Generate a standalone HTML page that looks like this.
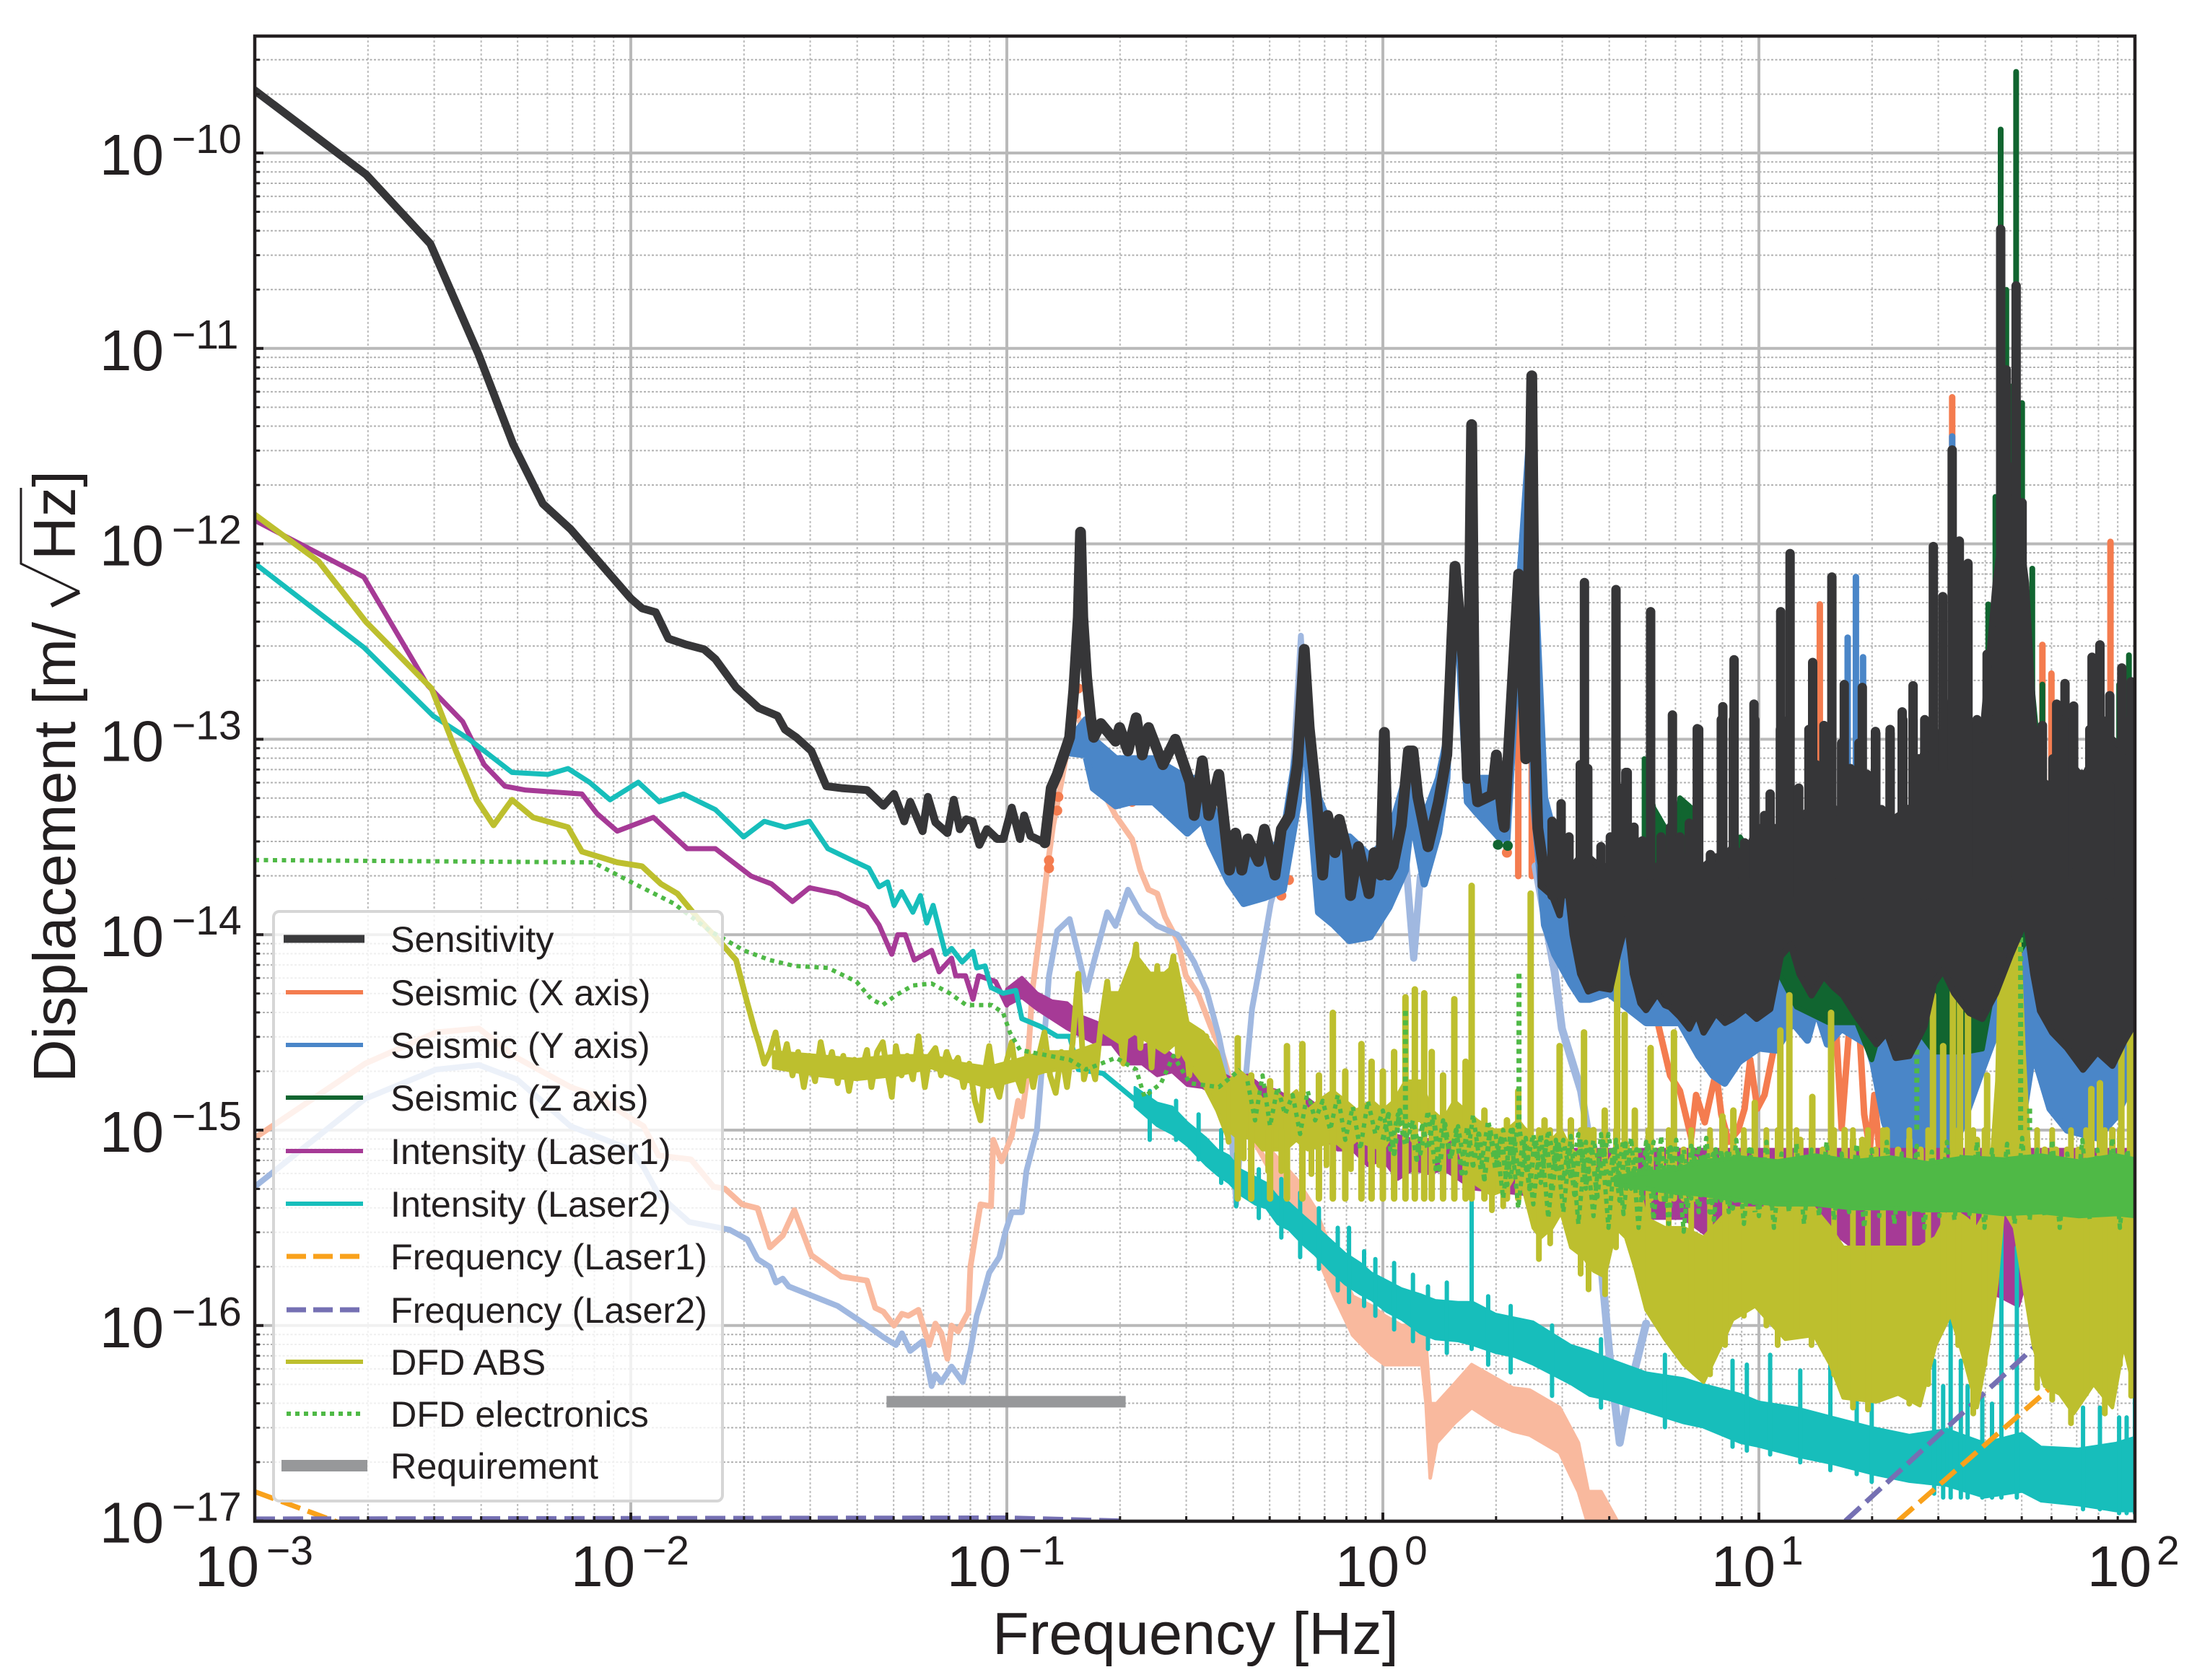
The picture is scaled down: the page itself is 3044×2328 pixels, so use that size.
<!DOCTYPE html>
<html lang="en">
<head>
<meta charset="utf-8">
<title>Displacement noise spectrum</title>
<style>
html,body{margin:0;padding:0;background:#fff;}
svg{display:block;}
text{font-family:"Liberation Sans",sans-serif;fill:#231f20;}
</style>
</head>
<body>
<svg id="chart" xmlns="http://www.w3.org/2000/svg" width="3044" height="2328" viewBox="0 0 3044 2328">
  <defs><clipPath id="plot-clip"><rect x="353" y="50" width="2605" height="2058"/></clipPath></defs>
  <rect x="0" y="0" width="3044" height="2328" fill="#fff"/>
  <g id="grid"></g>
  <g id="series" clip-path="url(#plot-clip)"></g>
  <g id="ticks"></g>
  <rect x="353" y="50" width="2605" height="2058" fill="none" stroke="#231f20" stroke-width="4.5"/>
  <g id="tick-labels"></g>

  <text x="1375" y="2292" font-size="83">Frequency [Hz]</text>
  <g>
    <text transform="translate(104,1500) rotate(-90)" font-size="82.6">Displacement [m/</text>
    <polyline points="29,676 29,781 110,820" fill="none" stroke="#231f20" stroke-width="3"/>
    <polyline points="110,820 71,839" fill="none" stroke="#231f20" stroke-width="6"/>
    <text transform="translate(104,776) rotate(-90)" font-size="82.6">Hz]</text>
  </g>

  <g>
    <rect x="379" y="1263" width="622" height="817" rx="8" ry="8" fill="#fff" fill-opacity="0.8" stroke="#d6d6d6" stroke-width="4"/>
    <g font-size="50.3">
      <g><line x1="393" x2="505" y1="1301" y2="1301" stroke="#3a3a3c" stroke-width="11"/><text x="541" y="1319">Sensitivity</text></g>
      <g><line x1="396" x2="503" y1="1375" y2="1375" stroke="#f47c4f" stroke-width="6"/><text x="541" y="1393">Seismic (X axis)</text></g>
      <g><line x1="396" x2="503" y1="1448" y2="1448" stroke="#4a86c8" stroke-width="6"/><text x="541" y="1466">Seismic (Y axis)</text></g>
      <g><line x1="396" x2="503" y1="1521" y2="1521" stroke="#116530" stroke-width="6"/><text x="541" y="1539">Seismic (Z axis)</text></g>
      <g><line x1="396" x2="503" y1="1595" y2="1595" stroke="#a63a96" stroke-width="6"/><text x="541" y="1613">Intensity (Laser1)</text></g>
      <g><line x1="396" x2="503" y1="1668" y2="1668" stroke="#17bebb" stroke-width="6"/><text x="541" y="1686">Intensity (Laser2)</text></g>
      <g><line x1="397" x2="503" y1="1741" y2="1741" stroke="#f9a11b" stroke-width="7" stroke-dasharray="27 10"/><text x="541" y="1759">Frequency (Laser1)</text></g>
      <g><line x1="397" x2="503" y1="1815" y2="1815" stroke="#7570b3" stroke-width="7" stroke-dasharray="27 10"/><text x="541" y="1833">Frequency (Laser2)</text></g>
      <g><line x1="396" x2="503" y1="1887" y2="1887" stroke="#bdbf2e" stroke-width="6"/><text x="541" y="1905">DFD ABS</text></g>
      <g><line x1="397" x2="503" y1="1959" y2="1959" stroke="#4fb946" stroke-width="6" stroke-dasharray="6 6"/><text x="541" y="1977">DFD electronics</text></g>
      <g><line x1="390" x2="509" y1="2031" y2="2031" stroke="#97989a" stroke-width="16"/><text x="541" y="2049">Requirement</text></g>
    </g>
  </g>
</svg>
<script>
// Axis decades and minor multipliers
const xDecades=[-3,-2,-1,0,1,2];
const yDecades=[-10,-11,-12,-13,-14,-15,-16,-17];
const minorMultipliers=[2,3,4,5,6,7,8,9];

// All series are log10(Hz) and log10(m/rtHz)
const sensLf=[-3,-2.704,-2.533,-2.405,-2.313,-2.234,-2.16,-2,-1.97,-1.934,-1.9,-1.854,-1.805,-1.775,-1.72,-1.66,-1.61,-1.59,-1.56,-1.52,-1.48,-1.44,-1.372,-1.328,-1.3,-1.273,-1.257,-1.224,-1.21,-1.19,-1.158,-1.141,-1.125,-1.108,-1.091,-1.073,-1.053,-1.026,-1.009,-0.987,-0.965,-0.954,-0.937,-0.899,-0.882,-0.866,-0.833,-0.822,-0.81,-0.804,-0.798,-0.788,-0.777,-0.769,-0.75,-0.711,-0.7,-0.678,-0.656,-0.64,-0.623,-0.585,-0.552,-0.513,-0.502,-0.48,-0.463,-0.436,-0.408,-0.392,-0.375,-0.359,-0.331,-0.315,-0.287,-0.27,-0.248,-0.227,-0.209,-0.196,-0.177,-0.16,-0.147,-0.127,-0.116,-0.094,-0.086,-0.065,-0.037,-0.023,-0.006,0.004,0.014,0.027,0.049,0.068,0.08,0.093,0.12,0.148,0.17,0.192,0.214,0.225,0.236,0.245,0.252,0.29,0.302,0.319,0.323,0.33,0.361,0.38,0.396,0.405,0.412,0.43];
const sensLa=[-9.68,-10.11,-10.465,-11.03,-11.49,-11.795,-11.925,-12.28,-12.33,-12.35,-12.485,-12.515,-12.54,-12.59,-12.735,-12.84,-12.88,-12.95,-12.99,-13.06,-13.24,-13.25,-13.26,-13.34,-13.28,-13.42,-13.32,-13.47,-13.295,-13.425,-13.48,-13.31,-13.46,-13.41,-13.42,-13.54,-13.46,-13.51,-13.51,-13.35,-13.51,-13.39,-13.495,-13.53,-13.25,-13.18,-12.99,-12.75,-12.375,-11.94,-12.375,-12.68,-12.89,-12.99,-12.92,-13.01,-12.94,-13.06,-12.89,-13.08,-12.94,-13.13,-13.0,-13.22,-13.39,-13.11,-13.39,-13.18,-13.67,-13.48,-13.67,-13.51,-13.625,-13.46,-13.695,-13.46,-13.39,-13.13,-12.54,-12.94,-13.295,-13.695,-13.39,-13.58,-13.41,-13.58,-13.8,-13.55,-13.79,-13.58,-13.695,-12.965,-13.695,-13.65,-13.44,-13.06,-13.06,-13.295,-13.55,-13.32,-13.08,-12.115,-12.61,-13.2,-11.39,-13.2,-13.32,-13.285,-13.08,-13.41,-13.45,-13.2,-12.155,-13.1,-11.14,-13.0,-13.455,-13.7];
const sensBandLf=[0.42,0.45,0.47,0.485,0.505,0.525,0.546,0.575,0.604,0.625,0.649,0.665,0.685,0.7,0.73,0.75,0.764,0.79,0.815,0.835,0.853,0.885,0.91,0.93,0.965,0.994,1.03,1.058,1.085,1.108,1.14,1.172,1.2,1.224,1.26,1.29,1.313,1.34,1.364,1.4,1.44,1.465,1.49,1.52,1.56,1.594,1.63,1.67,1.71,1.73,1.748,1.78,1.82,1.862,1.9,1.94,1.97,2];
const sensBandUpper=[-13.65,-13.6,-13.65,-13.7,-13.65,-13.6,-13.6,-13.65,-13.65,-13.6,-13.55,-13.65,-13.65,-13.65,-13.65,-13.6,-13.65,-13.6,-13.6,-13.65,-13.65,-13.6,-13.6,-13.55,-13.6,-13.45,-13.45,-13.45,-13.45,-13.4,-13.35,-13.3,-13.35,-13.4,-13.4,-13.4,-13.4,-13.4,-13.4,-13.35,-13.35,-12.95,-13.0,-12.7,-12.9,-13.0,-12.2,-11.6,-12.2,-12.9,-13.2,-13.25,-13.1,-13.2,-13.05,-13.0,-13.05,-13.05];
const sensBandLower=[-13.75,-13.8,-13.9,-13.65,-14.0,-14.2,-14.29,-14.27,-14.28,-14.1,-13.92,-14.2,-14.35,-14.385,-14.3,-14.36,-14.37,-14.42,-14.48,-14.4,-14.5,-14.4,-14.45,-14.43,-14.38,-14.43,-14.38,-14.11,-14.05,-14.2,-14.31,-14.21,-14.27,-14.31,-14.42,-14.5,-14.56,-14.5,-14.63,-14.62,-14.47,-14.25,-14.18,-14.3,-14.4,-14.43,-14.3,-14.1,-13.92,-14.2,-14.39,-14.5,-14.58,-14.69,-14.6,-14.67,-14.55,-14.45];
const sensSpikeLf=[0.536,0.62,0.646,0.712,0.77,0.836,0.904,0.934,0.987,1.058,1.083,1.143,1.173,1.194,1.227,1.275,1.31,1.349,1.381,1.41,1.441,1.464,1.489,1.514,1.533,1.556,1.579,1.607,1.643,1.658,1.684,1.7,1.725,1.754,1.792,1.814,1.837,1.886,1.907,1.933,1.965,1.99];
const sensSpikeLa=[-12.198,-12.234,-13.17,-12.347,-12.876,-12.946,-12.833,-12.593,-12.82,-12.347,-12.05,-12.607,-12.93,-12.17,-12.72,-12.735,-12.96,-12.95,-12.86,-12.726,-12.9,-12.014,-12.27,-11.52,-11.986,-12.1,-12.92,-12.565,-10.39,-11.11,-10.68,-11.79,-12.946,-12.93,-12.82,-12.715,-12.83,-12.58,-12.517,-12.777,-12.635,-12.706];
const sensCombLf=[0.45,0.474,0.495,0.525,0.545,0.58,0.605,0.63,0.65,0.668,0.69,0.74,0.765,0.79,0.815,0.84,0.871,0.9,0.932,0.962,0.989,1.015,1.03,1.057,1.08,1.106,1.133,1.152,1.182,1.22,1.243,1.266,1.288,1.311,1.326,1.349,1.364,1.383,1.41,1.425,1.44,1.463,1.486,1.5,1.516,1.539,1.58,1.615,1.637,1.729,1.751,1.782,1.812,1.842,1.858,1.88,1.911,1.933,1.971,1.987];
const sensCombLa=[-13.42,-13.33,-13.5,-13.13,-13.15,-13.55,-13.5,-13.25,-13.17,-13.45,-13.52,-13.5,-13.45,-13.5,-13.43,-12.95,-13.59,-12.9,-12.9,-13.53,-12.9,-13.39,-13.28,-12.95,-12.9,-13.25,-12.95,-13.13,-12.95,-13.02,-13.15,-13.02,-13.18,-12.97,-13.36,-12.97,-13.45,-12.9,-12.9,-13.1,-13.08,-12.9,-13.18,-13.18,-12.9,-12.9,-12.9,-12.9,-12.6,-12.95,-12.95,-13.1,-12.9,-13.68,-13.18,-12.95,-12.9,-13.24,-13.1,-12.9];

const xPaleLf=[-3,-2.707,-2.518,-2.404,-2.303,-2.16,-2.087,-2,-1.966,-1.926,-1.84,-1.78,-1.75,-1.704,-1.663,-1.63,-1.596,-1.565,-1.52,-1.44,-1.372,-1.35,-1.328,-1.3,-1.279,-1.262,-1.235,-1.207,-1.19,-1.174,-1.158,-1.147,-1.13,-1.102,-1.097,-1.086,-1.07,-1.042,-1.036,-1.014,-0.987,-0.97,-0.96,-0.948,-0.932,-0.91,-0.893,-0.877,-0.855,-0.82,-0.777,-0.744,-0.711,-0.667,-0.645,-0.623,-0.6,-0.579,-0.546,-0.524,-0.49,-0.458,-0.425,-0.4,-0.381,-0.3];
const xPaleLa=[-15.04,-14.66,-14.5,-14.48,-14.63,-14.78,-14.83,-14.94,-14.98,-15.13,-15.15,-15.29,-15.3,-15.38,-15.4,-15.6,-15.54,-15.41,-15.64,-15.75,-15.77,-15.91,-15.93,-16.0,-15.94,-15.95,-15.92,-16.1,-15.99,-16.04,-16.17,-16.0,-16.03,-15.93,-15.7,-15.57,-15.38,-15.39,-15.05,-15.16,-15.03,-14.85,-14.93,-14.76,-14.285,-13.955,-13.67,-13.44,-13.22,-12.85,-13.03,-13.27,-13.39,-13.51,-13.67,-13.77,-13.79,-13.91,-14.03,-14.21,-14.31,-14.47,-14.62,-14.78,-14.92,-15.2];
const xBandLf=[-0.3,-0.23,-0.18,-0.13,-0.08,-0.03,0.005,0.05,0.104,0.115,0.126,0.143,0.19,0.236,0.3,0.346,0.39,0.47,0.52,0.546,0.58,0.623];
const xBandUpper=[-15.1,-15.25,-15.4,-15.65,-15.85,-15.9,-15.95,-16,-16,-16.1,-16.4,-16.4,-16.3,-16.2,-16.27,-16.32,-16.33,-16.42,-16.6,-16.85,-16.85,-17];
const xBandLower=[-15.3,-15.42,-15.62,-15.85,-16.05,-16.15,-16.2,-16.2,-16.2,-16.4,-16.78,-16.6,-16.5,-16.42,-16.5,-16.54,-16.56,-16.65,-16.85,-17.02,-17.02,-17.02];
const xLineLf=[0.7,0.72,0.764,0.79,0.82,0.833,0.856,0.886,0.9,0.92,0.945,0.962,0.977,0.996,1.015,1.038,1.068,1.09,1.12,1.16,1.205,1.22,1.243,1.266,1.28,1.295,1.307,1.32,1.34,1.35,1.36,1.39,1.4,1.43,1.45,1.46];
const xLineLa=[-14.42,-14.36,-14.72,-14.8,-15.04,-14.82,-14.96,-14.7,-14.92,-15.06,-15.0,-14.89,-14.64,-14.89,-14.82,-14.6,-14.49,-14.41,-14.2,-14.3,-14.47,-14.99,-14.41,-14.44,-14.92,-15.1,-14.82,-15.1,-15.09,-15.6,-15.1,-15.7,-15.1,-15.75,-15.15,-15.7];
const xSpikeLf=[1.162,1.514,1.754,1.778,1.935,0.396,0.36];
const xSpikeLa=[-12.31,-11.25,-12.517,-12.664,-11.99,-11.3,-12.2];
const xDotLf=[-0.888,-0.888,-0.863,-0.866,-0.816,-0.81,-0.794,-0.667,-0.75,-0.25,-0.27,0.33,-0.733,-0.69];
const xDotLa=[-13.66,-13.62,-13.295,-13.365,-12.87,-12.74,-12.92,-13.32,-13.09,-13.72,-13.8,-13.58,-13.29,-13.32];

const yPaleLf=[-3,-2.707,-2.518,-2.404,-2.303,-2.16,-2,-1.966,-1.926,-1.845,-1.79,-1.737,-1.69,-1.663,-1.63,-1.614,-1.596,-1.58,-1.45,-1.372,-1.328,-1.295,-1.279,-1.257,-1.224,-1.2,-1.19,-1.174,-1.147,-1.117,-1.097,-1.08,-1.064,-1.047,-1.02,-1.003,-0.987,-0.96,-0.948,-0.92,-0.899,-0.888,-0.866,-0.833,-0.81,-0.788,-0.766,-0.733,-0.711,-0.678,-0.645,-0.6,-0.546,-0.502,-0.469,-0.436,-0.414,-0.4,-0.39,-0.375,-0.348,-0.315,-0.298,-0.25,-0.218,-0.19];
const yPaleLa=[-15.29,-14.84,-14.69,-14.667,-14.74,-14.98,-15.1,-15.19,-15.33,-15.47,-15.49,-15.51,-15.56,-15.66,-15.7,-15.78,-15.76,-15.8,-15.9,-16,-16.06,-16.1,-16.04,-16.13,-16.08,-16.31,-16.25,-16.29,-16.21,-16.29,-16.13,-15.95,-15.85,-15.73,-15.65,-15.515,-15.42,-15.42,-15.21,-15,-14.5,-14.21,-13.98,-13.92,-14.1,-14.285,-14.12,-13.885,-13.955,-13.77,-13.885,-13.955,-14,-14.14,-14.285,-14.52,-14.73,-15.1,-15.38,-14.95,-14.38,-14.03,-13.84,-13.5,-12.47,-13.4];
const yNotchLf=[0.06,0.082,0.1];
const yNotchLa=[-13.6,-14.12,-13.7];
const yTailLf=[0.406,0.457,0.476,0.527,0.559,0.585,0.604,0.63,0.655,0.7];
const yTailLa=[-13.65,-14.19,-14.48,-14.8,-15.17,-15.78,-16.18,-16.6,-16.34,-15.99];
const yBandLf=[-0.83,-0.79,-0.77,-0.71,-0.67,-0.61,-0.52,-0.48,-0.46,-0.41,-0.37,-0.315,-0.265,-0.225,-0.209,-0.196,-0.171,-0.13,-0.089,-0.034,0.016,0.06,0.076,0.11,0.148,0.17,0.192,0.21,0.225,0.247,0.313,0.33,0.36,0.396,0.4,0.43,0.457,0.5,0.527,0.55,0.6,0.7,0.79,0.84,0.878,0.909,0.947,1.0,1.046,1.09,1.129,1.152,1.182,1.22,1.288,1.304,1.334,1.364,1.41,1.466,1.51,1.592,1.65,1.706,1.729,1.774,1.82,1.9,1.95,2];
const yBandUpper=[-13,-12.9,-13,-13.1,-13.1,-13.1,-13.2,-13.2,-13.3,-13.6,-13.6,-13.6,-13.5,-13,-12.6,-12.9,-13.3,-13.5,-13.5,-13.6,-13.5,-13.2,-13.1,-13.4,-13.2,-13,-12.12,-12.5,-13.2,-13.2,-13.2,-13.2,-12.3,-11.3,-12,-13.3,-13.5,-13.7,-13.7,-13.7,-13.7,-13.7,-13.7,-13.7,-13.7,-13.7,-13.7,-13.7,-13.7,-13.7,-13.7,-13.7,-13.7,-13.7,-13.7,-13.7,-13.7,-13.7,-13.7,-13.7,-13.7,-13.7,-13.7,-13.7,-13.7,-13.7,-13.7,-13.7,-13.7,-13.7];
const yBandLower=[-13.07,-13.08,-13.25,-13.34,-13.32,-13.32,-13.48,-13.41,-13.53,-13.73,-13.84,-13.81,-13.77,-13.32,-12.8,-13.3,-13.885,-13.95,-14.03,-14.01,-13.86,-13.67,-13.39,-13.74,-13.48,-13.2,-12.14,-12.8,-13.32,-13.37,-13.51,-13.51,-12.5,-11.6,-13.3,-13.95,-14.1,-14.25,-14.33,-14.33,-14.3,-14.45,-14.45,-14.62,-14.72,-14.76,-14.65,-14.58,-14.59,-14.45,-14.54,-14.38,-14.56,-14.48,-14.56,-14.66,-14.96,-15.13,-15.15,-15.09,-15.14,-14.7,-14.4,-14.89,-14.6,-14.89,-15,-15.04,-14.93,-14.72];
const ySpikeLf=[1.236,1.258,1.277,1.514];
const ySpikeLa=[-12.48,-12.17,-12.58,-11.45];

const zBandLf=[0.695,0.72,0.75,0.76,0.77,0.79,0.82,0.83,0.9,0.92,0.95,0.98,1.0,1.1,1.185,1.26,1.3,1.35,1.466,1.5,1.55,1.594,1.63,1.66,1.72,1.76];
const zBandUpper=[-13.1,-13.35,-13.45,-13.7,-13.7,-13.3,-13.35,-13.7,-13.7,-13.65,-13.5,-13.6,-13.7,-13.7,-13.7,-13.7,-13.7,-13.7,-13.7,-13.7,-13.7,-13.7,-13.7,-13.7,-12.6,-13.4];
const zBandLower=[-13.7,-13.8,-13.8,-13.8,-13.8,-13.8,-13.8,-13.8,-13.8,-13.9,-13.9,-13.9,-14,-14.37,-14.45,-14.45,-14.64,-14.3,-14.6,-14.6,-14.6,-14.585,-14.2,-14.2,-14.0,-13.9];
const zSpikeLf=[1.643,1.684,1.658,1.671,1.7,1.727,1.61,1.629,1.72,1.754,1.984,1.958];
const zSpikeLa=[-9.88,-9.585,-10.7,-11.195,-11.28,-12.127,-12.31,-11.76,-12.48,-12.72,-12.57,-12.72];
const zDotLf=[0.306,0.332];
const zDotLa=[-13.54,-13.545];

const int1Lf=[-3,-2.71,-2.54,-2.447,-2.39,-2.335,-2.28,-2.13,-2.09,-2.036,-1.94,-1.85,-1.775,-1.68,-1.626,-1.57,-1.525,-1.45,-1.372,-1.34,-1.306,-1.29,-1.27,-1.246,-1.2,-1.18,-1.147,-1.136,-1.11,-1.09,-1.075,-1.03,-1];
const int1La=[-11.88,-12.17,-12.725,-12.91,-13.13,-13.24,-13.26,-13.28,-13.38,-13.47,-13.4,-13.56,-13.56,-13.7,-13.74,-13.83,-13.76,-13.79,-13.86,-13.95,-14.1,-14.0,-14.0,-14.13,-14.08,-14.19,-14.12,-14.21,-14.21,-14.33,-14.21,-14.24,-14.36];
const int1BandLf=[-1,-0.96,-0.92,-0.88,-0.84,-0.8,-0.76,-0.72,-0.68,-0.64,-0.6,-0.56,-0.52,-0.48,-0.44,-0.4,-0.36,-0.32,-0.28,-0.24,-0.2,-0.16,-0.12,-0.08,-0.04,0,0.04,0.08,0.12,0.163,0.24,0.39,0.5,0.62,0.68,0.8,0.87,1.06,1.15,1.25,1.37,1.45,1.64,1.69,1.75,1.95,1.98,2];
const int1BandUpper=[-14.28,-14.22,-14.3,-14.34,-14.35,-14.42,-14.45,-14.5,-14.47,-14.57,-14.55,-14.62,-14.62,-14.68,-14.7,-14.74,-14.72,-14.78,-14.8,-14.85,-14.84,-14.9,-14.92,-14.97,-15,-15.02,-15.03,-15.05,-15.05,-15.05,-15.1,-15.1,-15.1,-15.1,-15.1,-15.1,-15.1,-15.1,-15.1,-15.1,-15.1,-15.1,-15.1,-15.1,-15.1,-15.1,-15.1,-15.1];
const int1BandLower=[-14.36,-14.32,-14.38,-14.43,-14.48,-14.52,-14.56,-14.56,-14.66,-14.66,-14.72,-14.7,-14.77,-14.78,-14.82,-14.82,-14.9,-14.9,-14.96,-14.96,-15.03,-15.03,-15.1,-15.1,-15.18,-15.15,-15.25,-15.2,-15.22,-15.2,-15.3,-15.33,-15.38,-15.43,-15.45,-15.45,-15.55,-15.5,-15.45,-15.6,-15.7,-15.7,-15.85,-15.9,-15.5,-15.8,-15.9,-15.6];

const int2Lf=[-3,-2.71,-2.526,-2.43,-2.316,-2.22,-2.167,-2.11,-2.055,-1.98,-1.924,-1.86,-1.775,-1.7,-1.645,-1.59,-1.525,-1.476,-1.4,-1.367,-1.34,-1.317,-1.3,-1.28,-1.25,-1.23,-1.213,-1.196,-1.163,-1.147,-1.119,-1.09,-1.08,-1.058,-1.042,-1.01,-0.976,-0.96,-0.91,-0.866,-0.833,-0.81,-0.744,-0.7,-0.656];
const int2La=[-12.1,-12.53,-12.88,-13,-13.17,-13.18,-13.15,-13.22,-13.31,-13.22,-13.32,-13.28,-13.36,-13.5,-13.42,-13.45,-13.42,-13.56,-13.63,-13.66,-13.755,-13.73,-13.85,-13.78,-13.885,-13.8,-13.94,-13.85,-14.1,-14.07,-14.14,-14.085,-14.17,-14.16,-14.27,-14.3,-14.285,-14.43,-14.47,-14.52,-14.52,-14.69,-14.71,-14.78,-14.85];
const int2BandLf=[-0.66,-0.6,-0.56,-0.52,-0.47,-0.44,-0.41,-0.38,-0.34,-0.31,-0.28,-0.25,-0.21,-0.18,-0.14,-0.1,-0.06,-0.03,0.01,0.05,0.1,0.14,0.2,0.24,0.3,0.35,0.4,0.5,0.55,0.6,0.7,0.8,0.85,0.95,1,1.1,1.2,1.3,1.4,1.5,1.6,1.7,1.75,1.85,1.95,2];
const int2BandUpper=[-14.78,-14.86,-14.88,-14.96,-15.04,-15.1,-15.13,-15.2,-15.24,-15.27,-15.34,-15.37,-15.44,-15.49,-15.56,-15.63,-15.68,-15.73,-15.77,-15.81,-15.84,-15.87,-15.88,-15.88,-15.94,-15.96,-15.98,-16.1,-16.13,-16.17,-16.24,-16.27,-16.3,-16.35,-16.39,-16.42,-16.47,-16.52,-16.56,-16.53,-16.6,-16.55,-16.62,-16.63,-16.6,-16.57];
const int2BandLower=[-14.88,-14.98,-15.02,-15.08,-15.18,-15.23,-15.27,-15.33,-15.38,-15.4,-15.48,-15.51,-15.59,-15.64,-15.72,-15.79,-15.84,-15.87,-15.93,-15.97,-16.04,-16.07,-16.08,-16.1,-16.14,-16.16,-16.2,-16.3,-16.36,-16.38,-16.44,-16.5,-16.52,-16.6,-16.62,-16.67,-16.71,-16.76,-16.8,-16.82,-16.88,-16.85,-16.9,-16.92,-16.95,-16.95];
const int2SpikeLf=[-0.62,-0.55,-0.49,-0.43,-0.39,-0.33,-0.27,-0.22,-0.17,-0.12,-0.09,-0.05,-0.02,0.03,0.08,0.12,0.17,0.236,0.28,0.34,0.45,0.58,0.75,0.93,0.968,1.03,1.11,1.19,1.26,1.3,1.466,1.49,1.51,1.537,1.555,1.594,1.62,1.645,1.686,1.862,1.907,1.958,1.978,2];
const int2SpikeLa=[-14.8,-14.85,-14.92,-15.0,-15.12,-15.2,-15.25,-15.32,-15.4,-15.5,-15.5,-15.62,-15.66,-15.68,-15.74,-15.8,-15.78,-15.17,-15.85,-15.9,-16.0,-16.07,-16.15,-16.18,-16.2,-16.15,-16.23,-16.18,-16.34,-16.37,-16.18,-16.31,-15.97,-16.18,-16.31,-16.37,-16.4,-15.44,-15.6,-16.42,-16.42,-16.47,-16.47,-16.34];
const int2SpikeBase=[-15.05,-15.05,-15.15,-15.27,-15.39,-15.45,-15.55,-15.65,-15.71,-15.82,-15.88,-15.9,-15.95,-16.02,-16.08,-16.12,-16.14,-16.12,-16.2,-16.24,-16.36,-16.42,-16.52,-16.62,-16.64,-16.66,-16.7,-16.74,-16.76,-16.8,-16.86,-16.88,-16.88,-16.88,-16.88,-16.88,-16.88,-16.88,-16.88,-16.94,-16.94,-16.96,-16.96,-16.96];

const freq1LeftLf=[-3,-2.76];
const freq1LeftLa=[-16.85,-17.02];
const freq1RightLf=[1.37,1.78,1.948,2];
const freq1RightLa=[-17,-16.31,-16.03,-15.93];
const freq2FlatLf=[-3,-1,-0.7];
const freq2FlatLa=[-16.99,-16.985,-17.0];
const freq2RightLf=[1.23,1.71,2];
const freq2RightLa=[-17,-16.15,-15.62];

const dfdLf=[-3,-2.83,-2.704,-2.53,-2.465,-2.41,-2.365,-2.316,-2.26,-2.167,-2.13,-2.036,-1.97,-1.92,-1.876,-1.82,-1.775,-1.72,-1.69,-1.67,-1.66,-1.645,-1.63,-1.615,-1.6,-1.585,-1.57,-1.555,-1.54,-1.525,-1.51,-1.495,-1.48,-1.465,-1.45,-1.435,-1.42,-1.405,-1.39,-1.372,-1.36,-1.345,-1.33,-1.318,-1.306,-1.295,-1.28,-1.265,-1.25,-1.235,-1.218,-1.205,-1.19,-1.175,-1.16,-1.145,-1.13,-1.115,-1.1,-1.085,-1.07,-1.06,-1.047,-1.033,-1.02,-1.005,-0.987,-0.975,-0.96,-0.945,-0.93,-0.915,-0.9,-0.885,-0.87,-0.855,-0.84,-0.825,-0.81,-0.795,-0.78,-0.765,-0.75,-0.733,-0.72,-0.705,-0.69,-0.675,-0.656,-0.645,-0.63,-0.615,-0.6,-0.59,-0.575,-0.557,-0.545,-0.53,-0.515,-0.5,-0.485,-0.47,-0.455,-0.44,-0.425,-0.41];
const dfdLa=[-11.85,-12.09,-12.4,-12.74,-13.06,-13.31,-13.44,-13.31,-13.4,-13.45,-13.575,-13.63,-13.65,-13.74,-13.79,-13.92,-14.01,-14.13,-14.35,-14.49,-14.55,-14.66,-14.6,-14.5,-14.68,-14.56,-14.72,-14.6,-14.78,-14.62,-14.75,-14.55,-14.7,-14.6,-14.76,-14.62,-14.8,-14.64,-14.72,-14.59,-14.78,-14.6,-14.55,-14.7,-14.83,-14.57,-14.72,-14.62,-14.74,-14.52,-14.78,-14.62,-14.58,-14.72,-14.6,-14.68,-14.63,-14.78,-14.66,-14.85,-14.95,-14.72,-14.57,-14.76,-14.83,-14.68,-14.55,-14.72,-14.8,-14.6,-14.78,-14.62,-14.5,-14.72,-14.81,-14.6,-14.78,-14.55,-14.2,-14.74,-14.62,-14.74,-14.46,-14.24,-14.5,-14.38,-14.66,-14.3,-14.05,-14.58,-14.2,-14.68,-14.16,-14.55,-14.3,-14.11,-14.62,-14.4,-14.72,-14.5,-14.7,-14.52,-14.75,-14.62,-14.85,-15.06];
const dfdMidLf=[-1.62,-1.5,-1.4,-1.3,-1.2,-1.12,-1.05,-0.97,-0.9,-0.82,-0.76];
const dfdMidUpper=[-14.6,-14.62,-14.64,-14.62,-14.62,-14.66,-14.68,-14.64,-14.6,-14.6,-14.56];
const dfdMidLower=[-14.68,-14.72,-14.74,-14.72,-14.68,-14.74,-14.78,-14.74,-14.7,-14.68,-14.66];
const dfdHumpLf=[-0.74,-0.7,-0.66,-0.62,-0.58,-0.55,-0.52,-0.48,-0.44,-0.41];
const dfdHumpUpper=[-14.3,-14.3,-14.1,-14.2,-14.2,-14.15,-14.45,-14.5,-14.6,-14.8];
const dfdHumpLower=[-14.5,-14.55,-14.5,-14.55,-14.6,-14.55,-14.65,-14.75,-14.9,-15.05];
const dfdBandLf=[-0.41,-0.38,-0.35,-0.32,-0.29,-0.26,-0.23,-0.2,-0.17,-0.133,-0.1,-0.07,-0.03,0,0.03,0.06,0.1,0.13,0.16,0.19,0.22,0.25,0.29,0.33,0.36,0.4,0.42,0.45,0.474,0.5,0.534,0.56,0.59,0.62,0.646,0.67,0.7,0.75,0.8,0.853,0.9,0.93,0.99,1.07,1.147,1.19,1.224,1.313,1.37,1.428,1.47,1.51,1.55,1.58,1.61,1.633,1.65,1.68,1.705,1.73,1.76,1.8,1.837,1.89,1.94,1.97,2];
const dfdBandUpper=[-14.75,-14.7,-14.75,-14.85,-14.8,-14.85,-14.8,-14.9,-14.85,-14.8,-14.85,-14.9,-14.85,-14.9,-14.85,-14.75,-14.75,-14.9,-14.95,-14.85,-14.9,-14.95,-15,-15,-14.95,-15.05,-15.1,-15.05,-15,-15.1,-15.15,-15.2,-15.2,-15.1,-15.05,-15.2,-15.45,-15.5,-15.5,-15.55,-15.45,-15.4,-15.4,-15.4,-15.4,-15.5,-15.6,-15.6,-15.6,-15.6,-15.55,-15.4,-15.45,-15.5,-15.4,-14.75,-13.4,-13.38,-14.6,-15.5,-15.4,-15.4,-15.4,-15.4,-15.4,-15.4,-15.2];
const dfdBandLower=[-15.0,-15.05,-15.03,-15.1,-15.1,-15.1,-15.05,-15.1,-15.08,-15.05,-15.1,-15.05,-15.08,-15.1,-15.0,-14.95,-14.95,-15.03,-15.07,-15.03,-15.2,-15.28,-15.33,-15.3,-15.2,-15.5,-15.55,-15.5,-15.42,-15.6,-15.65,-15.72,-15.75,-15.5,-15.55,-15.7,-15.92,-16.07,-16.2,-16.29,-16.1,-15.97,-15.9,-16.07,-16.05,-16.2,-16.37,-16.39,-16.35,-16.41,-16.1,-15.94,-16.2,-16.42,-16.1,-15.78,-15.4,-15.5,-15.8,-16.1,-16.31,-16.35,-16.45,-16.3,-16.42,-16.1,-16.34];
const dfdSpikeLf=[-0.386,-0.35,-0.3,-0.255,-0.214,-0.17,-0.133,-0.1,-0.057,-0.03,0,0.03,0.06,0.085,0.11,0.13,0.16,0.19,0.22,0.236,0.27,0.33,0.36,0.393,0.43,0.47,0.5,0.535,0.56,0.59,0.623,0.643,0.67,0.712,0.74,0.774,0.8,0.83,0.87,0.903,0.932,0.96,0.989,1.02,1.057,1.081,1.11,1.142,1.17,1.192,1.228,1.25,1.275,1.31,1.34,1.37,1.4,1.43,1.463,1.49,1.516,1.535,1.556,1.58,1.607,1.76,1.79,1.82,1.85,1.884,1.907,1.94,1.964,1.987,2];
const dfdSpikeLa=[-14.53,-14.72,-14.75,-14.57,-14.56,-14.72,-14.4,-14.7,-14.56,-14.65,-14.7,-14.6,-14.32,-14.28,-14.3,-14.6,-14.72,-14.33,-14.65,-13.75,-14.9,-14.95,-14.8,-13.79,-14.95,-14.57,-14.95,-14.5,-15,-14.9,-14.13,-14.41,-14.9,-14.58,-15.1,-14.5,-15.1,-15.15,-15.05,-14.93,-14.9,-15.05,-14.86,-15.1,-14.49,-14.31,-15.05,-14.83,-15.1,-14.4,-15,-15.05,-15.05,-15.1,-15,-15.1,-15.05,-15.1,-14.31,-14.57,-13.79,-14.16,-14.37,-15.05,-14.72,-15.1,-15.1,-15.1,-15.1,-14.79,-14.76,-15,-14.55,-14.52,-14.5];
const dfdToothLf=[-0.37,-0.305,-0.27,-0.19,-0.15,-0.085,-0.033,-0.01,0.08,0.144,0.233,0.29,0.32,0.378,0.415,0.445,0.526,0.547,0.591,0.62,0.706,0.76,0.82,0.87,0.91,0.96,1.02,1.05,1.1,1.14,1.2,1.25,1.29,1.33,1.4,1.45,1.49,1.53,1.57,1.6,1.74,1.78,1.83,1.87,1.92,1.96,1.99];
const dfdToothLa=[-15.145,-15.21,-15.21,-15.225,-15.18,-15.2,-15.155,-15.18,-15.05,-15.14,-15.29,-15.41,-15.39,-15.27,-15.66,-15.58,-15.735,-15.815,-15.84,-15.6,-15.92,-16.05,-16.15,-16.25,-16.1,-15.95,-16.0,-16.1,-16.02,-16.1,-16.25,-16.42,-16.43,-16.35,-16.4,-16.3,-16.0,-16.1,-16.45,-16.2,-16.32,-16.38,-16.5,-16.35,-16.45,-16.2,-16.36];

const elecLf=[-3,-2.1,-2,-1.886,-1.79,-1.7,-1.63,-1.565,-1.476,-1.4,-1.36,-1.33,-1.295,-1.25,-1.2,-1.152,-1.108,-1.04,-1.01,-0.992,-0.965,-0.9,-0.833,-0.79,-0.71,-0.656,-0.634,-0.59,-0.557,-0.513,-0.436,-0.38];
const elecLa=[-13.618,-13.63,-13.73,-13.84,-13.98,-14.08,-14.13,-14.16,-14.17,-14.24,-14.33,-14.36,-14.31,-14.26,-14.25,-14.3,-14.36,-14.36,-14.4,-14.5,-14.59,-14.615,-14.64,-14.69,-14.63,-14.69,-14.83,-14.76,-14.62,-14.76,-14.78,-14.69];
const elecZigLf=[-0.36,-0.34,-0.32,-0.3,-0.28,-0.26,-0.24,-0.22,-0.2,-0.18,-0.16,-0.14,-0.12,-0.1,-0.08,-0.06,-0.04,-0.02,0,0.02,0.04,0.06,0.08,0.1,0.12,0.14,0.16,0.18,0.2,0.22,0.24,0.26,0.28,0.3,0.32,0.34,0.36,0.38,0.4,0.42,0.44,0.46,0.48,0.5,0.52,0.54,0.56,0.58,0.6,0.62,0.64,0.66,0.68,0.7,0.72,0.74,0.76,0.78,0.8,0.82,0.84,0.86,0.88,0.9,0.92,0.94];
const elecZigLa=[-14.75,-14.95,-14.72,-14.98,-14.78,-14.92,-14.82,-15.02,-14.8,-14.95,-14.85,-15,-14.82,-15.05,-14.88,-15.1,-14.85,-15.02,-14.9,-15.1,-14.92,-15.08,-14.95,-15.12,-14.9,-15.2,-14.95,-15.15,-14.98,-15.22,-14.92,-15.2,-14.95,-15.15,-15,-15.25,-14.95,-15.2,-15.02,-15.27,-15,-15.2,-15.05,-15.25,-15.02,-15.3,-15.05,-15.22,-15.02,-15.28,-15.05,-15.3,-15.08,-15.25,-15.06,-15.32,-15.08,-15.28,-15.1,-15.35,-15.08,-15.3,-15.1,-15.36,-15.1,-15.38];
const elecFuzzLf=[0.3,0.32,0.34,0.36,0.38,0.4,0.42,0.44,0.46,0.48,0.5,0.52,0.54,0.56,0.58,0.6,0.62,0.64,0.66,0.68,0.7,0.72,0.74,0.76,0.78,0.8,0.82,0.84,0.86,0.88,0.9,0.92,0.94,0.96,0.98,1,1.02,1.04,1.06,1.08,1.1,1.12,1.14,1.16,1.18,1.2,1.22,1.24,1.26,1.28,1.3,1.32,1.34,1.36,1.38,1.4,1.42,1.44,1.46,1.48,1.5,1.52,1.54,1.56,1.58,1.6,1.62,1.64,1.66,1.68,1.7,1.72,1.74,1.76,1.78,1.8,1.82,1.84,1.86,1.88,1.9,1.92,1.94,1.96,1.98,2];
const elecFuzzLa=[-15.02,-15.35,-15,-15.4,-15.04,-15.38,-15.02,-15.45,-15.05,-15.42,-15.03,-15.48,-15.06,-15.44,-15.02,-15.5,-15.05,-15.43,-15.04,-15.5,-15.06,-15.46,-15.03,-15.48,-15.05,-15.52,-15.08,-15.42,-15.04,-15.46,-15.1,-15.42,-15.05,-15.48,-15.1,-15.44,-15.06,-15.5,-15.12,-15.42,-15.07,-15.48,-15.1,-15.44,-15.06,-15.46,-15.12,-15.42,-15.07,-15.5,-15.1,-15.44,-15.06,-15.48,-15.12,-15.43,-15.08,-15.5,-15.11,-15.44,-15.06,-15.46,-15.12,-15.43,-15.06,-15.5,-15.1,-15.44,-15.07,-15.48,-15.04,-15.46,-15.1,-15.44,-15.05,-15.5,-15.12,-15.44,-15.05,-15.46,-15.1,-15.42,-15.04,-15.5,-15.1,-15.44];
const elecScatterLf=[0,0.015,0.03,0.045,0.06,0.075,0.09,0.105,0.12,0.135,0.15,0.165,0.18,0.195,0.21,0.225,0.24,0.255,0.27,0.285,0.3,0.315,0.33,0.345,0.36,0.375,0.39,0.405,0.42,0.435,0.45,0.465,0.48,0.495,0.51,0.525,0.54,0.555,0.57,0.585,0.6,0.615,0.63,0.645,0.66,0.675,0.69,0.705,0.72,0.735,0.75,0.765,0.78,0.795,0.81,0.825,0.84,0.855,0.87,0.885,0.9,0.915,0.93,0.945,0.96,0.975,0.99];
const elecScatterLa=[-15.05,-14.92,-15.12,-14.9,-15.05,-14.95,-15.15,-14.98,-15.1,-14.92,-15.2,-14.97,-15.15,-15.0,-15.22,-14.98,-15.18,-15.02,-15.25,-15.0,-15.2,-15.03,-15.28,-15.0,-15.22,-15.05,-15.3,-15.04,-15.25,-15.06,-15.32,-15.05,-15.26,-15.08,-15.33,-15.04,-15.28,-15.08,-15.34,-15.06,-15.3,-15.1,-15.36,-15.07,-15.3,-15.1,-15.36,-15.08,-15.32,-15.12,-15.38,-15.09,-15.32,-15.12,-15.4,-15.1,-15.34,-15.12,-15.42,-15.1,-15.36,-15.12,-15.4,-15.12,-15.36,-15.1,-15.42];
const elecBandLf=[0.62,0.7,0.78,0.85,0.95,1.05,1.15,1.25,1.35,1.45,1.55,1.65,1.75,1.85,1.95,2];
const elecBandUpper=[-15.24,-15.22,-15.2,-15.16,-15.14,-15.16,-15.13,-15.16,-15.14,-15.17,-15.14,-15.15,-15.13,-15.16,-15.13,-15.15];
const elecBandLower=[-15.28,-15.3,-15.32,-15.33,-15.36,-15.38,-15.38,-15.4,-15.4,-15.41,-15.41,-15.43,-15.42,-15.44,-15.43,-15.44];
const elecSpikeLf=[0.06,0.362,1.42,1.696,1.72];
const elecSpikeLa=[-14.39,-14.2,-14.54,-13.63,-14.89];

const requirementLf=[-1.32,-0.684];
const requirementLa=[-16.39,-16.39];

const SVGNS='http://www.w3.org/2000/svg';
function xOf(lf){return 353+(lf+3)*521;}
function yOf(la){return 212+(-10-la)*270.8;}
function make(parent,tag,attrs,name){
  const el=document.createElementNS(SVGNS,tag);
  for(const k in attrs){el.setAttribute(k,attrs[k]);}
  
  
  parent.appendChild(el);
  return el;
}
function pts(lf,la){return lf.map(function(v,i){return xOf(v).toFixed(1)+','+yOf(la[i]).toFixed(1);}).join(' ');}
const seriesRoot=document.getElementById('series');
function drawLine(parent,name,lf,la,color,w,dash){
  const a={points:pts(lf,la),fill:'none',stroke:color,'stroke-width':w,'stroke-linejoin':'round','stroke-linecap':dash?'butt':'round'};
  if(dash){a['stroke-dasharray']=dash;}
  return make(parent,'polyline',a,name);
}
function drawBand(parent,name,lf,up,low,color,w){
  const revLf=lf.slice().reverse(),revLow=low.slice().reverse();
  const p=pts(lf,up)+' '+pts(revLf,revLow);
  return make(parent,'polygon',{points:p,fill:color,stroke:color,'stroke-width':w,'stroke-linejoin':'round'},name);
}
function drawSpikes(parent,name,lf,la,base,color,w){
  lf.forEach(function(v,i){
    const b=Array.isArray(base)?base[i]:base;
    make(parent,'line',{x1:xOf(v).toFixed(1),x2:xOf(v).toFixed(1),y1:yOf(la[i]).toFixed(1),y2:yOf(b).toFixed(1),stroke:color,'stroke-width':w,'stroke-linecap':'round'},name);
  });
}
function drawDots(parent,name,lf,la,color,r){
  lf.forEach(function(v,i){
    make(parent,'circle',{cx:xOf(v).toFixed(1),cy:yOf(la[i]).toFixed(1),r:r,fill:color},name);
  });
}

// Grid and ticks
const gridRoot=document.getElementById('grid');
const tickRoot=document.getElementById('ticks');
xDecades.forEach(function(d){
  minorMultipliers.forEach(function(m){
    const lf=d+Math.log10(m);
    if(lf>=2){return;}
    const x=xOf(lf);
    make(gridRoot,'line',{x1:x,x2:x,y1:50,y2:2108,stroke:'#bcbcbc','stroke-width':2,'stroke-dasharray':'3 3'},'x-minor-gridline');
    make(tickRoot,'line',{x1:x,x2:x,y1:2108,y2:2101,stroke:'#231f20','stroke-width':3},'x-minor-tick');
  });
});
[-9].concat(yDecades).forEach(function(d){
  minorMultipliers.forEach(function(m){
    const la=d-1+Math.log10(m);
    if(la<-17){return;}
    const y=yOf(la);
    if(y<50){return;}
    make(gridRoot,'line',{x1:353,x2:2958,y1:y,y2:y,stroke:'#b0b0b0','stroke-width':2,'stroke-dasharray':'3 2.5'},'y-minor-gridline');
    make(tickRoot,'line',{x1:353,x2:360,y1:y,y2:y,stroke:'#231f20','stroke-width':3},'y-minor-tick');
  });
});
xDecades.forEach(function(d){
  const x=xOf(d);
  make(gridRoot,'line',{x1:x,x2:x,y1:50,y2:2108,stroke:'#b9b9b9','stroke-width':4},'x-major-gridline');
  make(tickRoot,'line',{x1:x,x2:x,y1:2108,y2:2096,stroke:'#231f20','stroke-width':4},'x-major-tick');
});
yDecades.forEach(function(d){
  const y=yOf(d);
  make(gridRoot,'line',{x1:353,x2:2958,y1:y,y2:y,stroke:'#b9b9b9','stroke-width':4},'y-major-gridline');
  make(tickRoot,'line',{x1:353,x2:365,y1:y,y2:y,stroke:'#231f20','stroke-width':4},'y-major-tick');
});

// Tick labels
const labelRoot=document.getElementById('tick-labels');
function powerLabel(name,baseX,baseY,supX,supY,exp){
  const t=make(labelRoot,'text',{x:baseX,y:baseY,'font-size':80},name);
  t.textContent='10';
  const s=make(labelRoot,'text',{x:supX,y:supY,'font-size':57},name+'-exponent');
  s.textContent=(exp<0?'\u2212':'')+Math.abs(exp);
}
xDecades.forEach(function(d){
  const x=xOf(d);
  if(d<0){powerLabel('x-tick-label',x-83,2198,x+16,2168,d);}
  else{powerLabel('x-tick-label',x-66,2198,x+30,2168,d);}
});
yDecades.forEach(function(d){
  powerLabel('y-tick-label',138,yOf(d)+30,238,yOf(d),d);
});

// Series, original stacking order
const colX='#f47c4f',colXPale='#f9b99e',colY='#4a86c8',colYPale='#a0b8e0',colZ='#116530',colI1='#a63a96',colI2='#17bebb',colF1='#f9a11b',colF2='#7570b3',colD='#bdbf2e',colE='#4fb946',colS='#363638';
const gX=make(seriesRoot,'g',{},'seismic-x-series');
drawLine(gX,'seismic-x-low-snr',xPaleLf,xPaleLa,colXPale,8);
drawBand(gX,'seismic-x-low-snr-band',xBandLf,xBandUpper,xBandLower,colXPale,5);
drawDots(gX,'seismic-x-marker',xDotLf,xDotLa,colX,7);
drawLine(gX,'seismic-x-line',xLineLf,xLineLa,colX,9);
drawSpikes(gX,'seismic-x-spike',xSpikeLf,xSpikeLa,-13.7,colX,9);
const gY=make(seriesRoot,'g',{},'seismic-y-series');
drawLine(gY,'seismic-y-low-snr',yPaleLf,yPaleLa,colYPale,8);
drawLine(gY,'seismic-y-low-snr-notch',yNotchLf,yNotchLa,colYPale,10);
drawLine(gY,'seismic-y-low-snr-tail',yTailLf,yTailLa,colYPale,11);
drawBand(gY,'seismic-y-band',yBandLf,yBandUpper,yBandLower,colY,10);
drawSpikes(gY,'seismic-y-spike',ySpikeLf,ySpikeLa,-13.7,colY,9);
const gZ=make(seriesRoot,'g',{},'seismic-z-series');
drawBand(gZ,'seismic-z-band',zBandLf,zBandUpper,zBandLower,colZ,7);
drawSpikes(gZ,'seismic-z-spike',zSpikeLf,zSpikeLa,-13.7,colZ,8);
drawDots(gZ,'seismic-z-marker',zDotLf,zDotLa,colZ,7);
const gI1=make(seriesRoot,'g',{},'intensity-laser1-series');
drawLine(gI1,'intensity-laser1-line',int1Lf,int1La,colI1,7);
drawBand(gI1,'intensity-laser1-band',int1BandLf,int1BandUpper,int1BandLower,colI1,5);
const gI2=make(seriesRoot,'g',{},'intensity-laser2-series');
drawLine(gI2,'intensity-laser2-line',int2Lf,int2La,colI2,7);
drawBand(gI2,'intensity-laser2-band',int2BandLf,int2BandUpper,int2BandLower,colI2,3);
drawSpikes(gI2,'intensity-laser2-spike',int2SpikeLf,int2SpikeLa,int2SpikeBase,colI2,6);
const gF1=make(seriesRoot,'g',{},'frequency-laser1-series');
drawLine(gF1,'frequency-laser1-left',freq1LeftLf,freq1LeftLa,colF1,7,'28 11');
drawLine(gF1,'frequency-laser1-right',freq1RightLf,freq1RightLa,colF1,7,'28 11');
const gF2=make(seriesRoot,'g',{},'frequency-laser2-series');
drawLine(gF2,'frequency-laser2-flat',freq2FlatLf,freq2FlatLa,colF2,7,'28 11');
drawLine(gF2,'frequency-laser2-right',freq2RightLf,freq2RightLa,colF2,7,'28 11');
const gD=make(seriesRoot,'g',{},'dfd-abs-series');
drawLine(gD,'dfd-abs-line',dfdLf,dfdLa,colD,8);
drawBand(gD,'dfd-abs-mid-band',dfdMidLf,dfdMidUpper,dfdMidLower,colD,5);
drawBand(gD,'dfd-abs-hump',dfdHumpLf,dfdHumpUpper,dfdHumpLower,colD,6);
drawBand(gD,'dfd-abs-band',dfdBandLf,dfdBandUpper,dfdBandLower,colD,5);
drawSpikes(gD,'dfd-abs-spike',dfdSpikeLf,dfdSpikeLa,-15.35,colD,9);
drawSpikes(gD,'dfd-abs-tooth',dfdToothLf,dfdToothLa,-15,colD,8);
const gE=make(seriesRoot,'g',{},'dfd-electronics-series');
drawLine(gE,'dfd-electronics-line',elecLf,elecLa,colE,6,'6 6.5');
drawLine(gE,'dfd-electronics-noise',elecZigLf,elecZigLa,colE,6,'6 7');
drawLine(gE,'dfd-electronics-scatter',elecScatterLf,elecScatterLa,colE,7,'7 8');
drawLine(gE,'dfd-electronics-fuzz',elecFuzzLf,elecFuzzLa,colE,6,'7 6');
drawBand(gE,'dfd-electronics-band',elecBandLf,elecBandUpper,elecBandLower,colE,6);
elecSpikeLf.forEach(function(v,i){
  make(gE,'line',{x1:xOf(v),x2:xOf(v),y1:yOf(elecSpikeLa[i]),y2:yOf(-15),stroke:colE,'stroke-width':7,'stroke-dasharray':'7 6'},'dfd-electronics-spike');
});
const gS=make(seriesRoot,'g',{},'sensitivity-series');
drawLine(gS,'sensitivity-line',sensLf,sensLa,colS,11);
const sensMidStart=sensLf.indexOf(-0.899);
drawLine(gS,'sensitivity-line-thick',sensLf.slice(sensMidStart),sensLa.slice(sensMidStart),colS,15);
drawBand(gS,'sensitivity-band',sensBandLf,sensBandUpper,sensBandLower,colS,9);
drawSpikes(gS,'sensitivity-spike',sensSpikeLf,sensSpikeLa,-13.7,colS,13);
drawSpikes(gS,'sensitivity-comb',sensCombLf,sensCombLa,-13.8,colS,13);
drawLine(seriesRoot,'requirement-bar',requirementLf,requirementLa,'#97989a',16).setAttribute('stroke-linecap','butt');
</script>
</body>
</html>
